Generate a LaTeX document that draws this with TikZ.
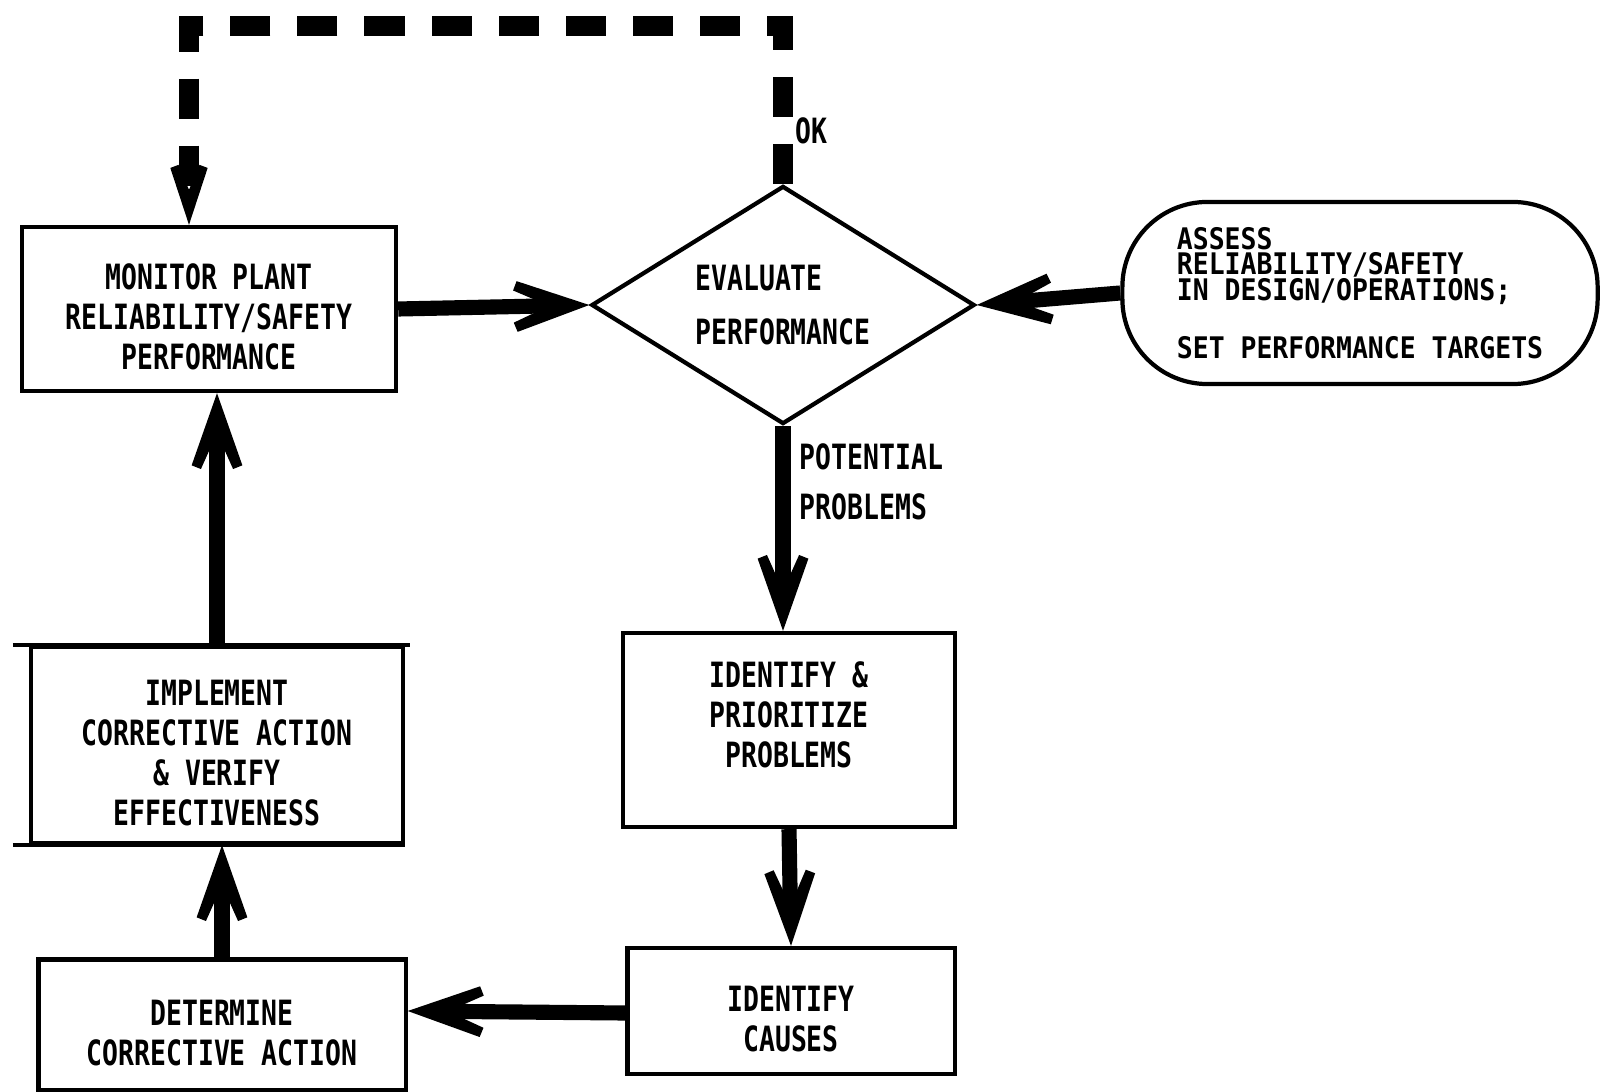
\documentclass[tikz,border=0pt]{standalone}
\usepackage{fontspec}
\newfontfamily\flowfont[FakeStretch=0.76]{DejaVu Sans Mono}
\newfontfamily\tightfont[FakeStretch=0.89]{DejaVu Sans Mono}
\newcommand{\lowstrut}{\rule{0pt}{11.8pt}}
\usetikzlibrary{arrows.meta,shapes.geometric}

\begin{document}
\begin{tikzpicture}[x=0.01cm,y=-0.01cm]
	\tikzstyle{Box} = [rectangle, draw=black, line width=1.2pt, align=center, inner sep=0pt, font=\flowfont\bfseries\fontsize{9.9}{11.4}\selectfont]
	\tikzstyle{Label} = [align=left, inner sep=0pt, font=\flowfont\bfseries\fontsize{9.9}{11.4}\selectfont]
	\tikzstyle{arrow} = [line width=4.3pt, -{Stealth[length=1.85cm,width=1.3cm,inset=1.45cm]}]
	\tikzstyle{loopline} = [line width=5.7pt, dash pattern=on 0.4cm off 0.27cm, -{Stealth[length=1.6cm,width=1.05cm,inset=1.25cm]}]

	\useasboundingbox (0,0) rectangle (1601,1092);

	\node (monitor) [Box, minimum width=3.74cm, minimum height=1.64cm] at (209,309) {\lowstrut MONITOR PLANT\\RELIABILITY/SAFETY\\PERFORMANCE};
	\node (eval) [Box, diamond, aspect=1.61, minimum width=3.83cm, minimum height=2.38cm, align=left] at (783,305) {EVALUATE\\[4pt]PERFORMANCE};
	\node (assess) [Box, rounded corners=0.85cm, minimum width=4.75cm, minimum height=1.82cm, align=left, font=\tightfont\bfseries\fontsize{8.45}{7.25}\selectfont] at (1360,293) {ASSESS\\RELIABILITY/SAFETY\\IN DESIGN/OPERATIONS;\\[8pt]SET PERFORMANCE TARGETS};
	\node (idprio) [Box, minimum width=3.32cm, minimum height=1.94cm] at (789,730) {IDENTIFY \&\\PRIORITIZE\\PROBLEMS\\[-0.1cm]};
	\node (causes) [Box, minimum width=3.27cm, minimum height=1.26cm] at (791,1011) {\lowstrut IDENTIFY\\CAUSES};
	\node (determine) [Box, minimum width=3.67cm, minimum height=1.31cm] at (222,1025) {\lowstrut DETERMINE\\CORRECTIVE ACTION};
	\node (implement) [Box, minimum width=3.72cm, minimum height=1.96cm] at (217,745) {\lowstrut IMPLEMENT\\CORRECTIVE ACTION\\\& VERIFY\\EFFECTIVENESS};
	\draw [line width=1.2pt] ([xshift=-0.16cm]implement.north west) -- ([xshift=0.05cm]implement.north east);
	\draw [line width=1.2pt] ([xshift=-0.16cm]implement.south west) -- (implement.south east);

	\node (ok) [Label, anchor=west] at (795,131) {OK};
	\node (potential) [Label, anchor=west] at (799,482) {POTENTIAL\\[2.8pt]PROBLEMS};

	% main loop
	\draw [arrow] (monitor.east) -- (eval.west);
	\draw [arrow] (assess.west) -- (eval.east);
	\draw [arrow] (eval.south) -- (idprio.north -| eval.south);
	\draw [arrow] (idprio.south) -- (causes.north);
	\draw [arrow] ([yshift=-0.02cm]causes.west) -- (determine.east |- causes.west);
	\draw [arrow] (determine.north) -- (implement.south -| determine.north);
	\draw [arrow] (implement.north) -- (monitor.south -| implement.north);

	% OK path back to monitoring
	\coordinate (looptop) at (480,26);
	\draw [loopline] (eval.north) |- (looptop) -| ([xshift=-0.2cm]monitor.north);
\end{tikzpicture}
\end{document}
